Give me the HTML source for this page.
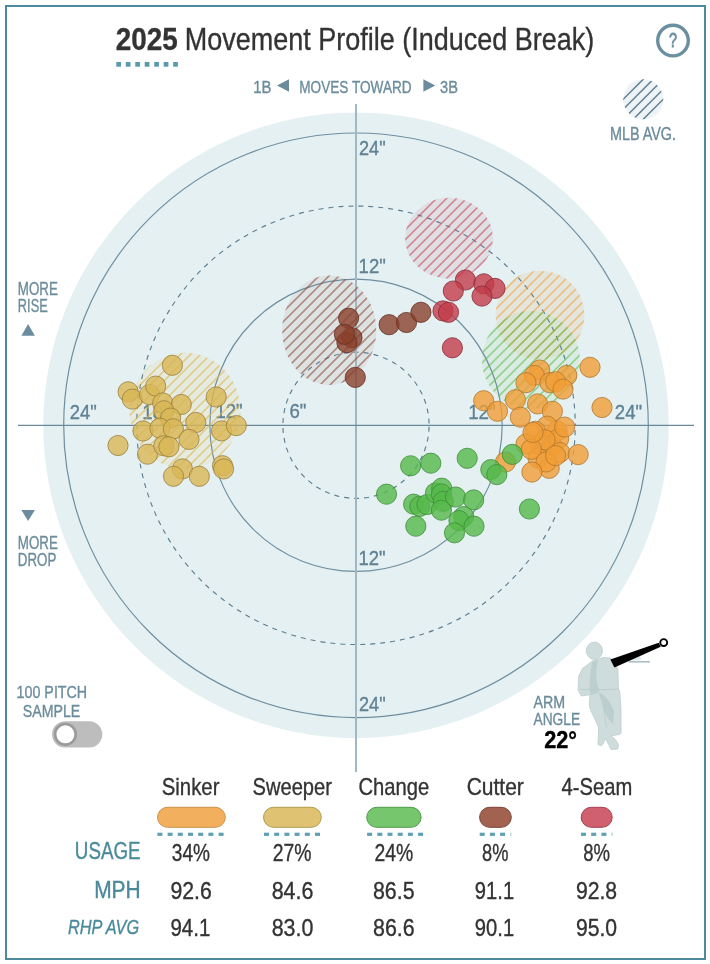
<!DOCTYPE html><html><head><meta charset="utf-8"><style>html,body{margin:0;padding:0;background:#fff;overflow:hidden}svg{display:block;will-change:transform}</style></head><body><svg width="710" height="964" viewBox="0 0 710 964" font-family='"Liberation Sans", sans-serif'>
<defs>
<pattern id="p_ff" patternUnits="userSpaceOnUse" width="7.07" height="7.07" patternTransform="rotate(-45)"><line x1="0" y1="3.535" x2="7.07" y2="3.535" stroke="#f0a23c" stroke-width="1.0"/></pattern>
<pattern id="p_sl" patternUnits="userSpaceOnUse" width="7.07" height="7.07" patternTransform="rotate(-45)"><line x1="0" y1="3.535" x2="7.07" y2="3.535" stroke="#dcb64a" stroke-width="1.0"/></pattern>
<pattern id="p_ch" patternUnits="userSpaceOnUse" width="7.07" height="7.07" patternTransform="rotate(-45)"><line x1="0" y1="3.535" x2="7.07" y2="3.535" stroke="#5cbf4c" stroke-width="1.0"/></pattern>
<pattern id="p_fc" patternUnits="userSpaceOnUse" width="7.07" height="7.07" patternTransform="rotate(-45)"><line x1="0" y1="3.535" x2="7.07" y2="3.535" stroke="#8e4a3a" stroke-width="1.0"/></pattern>
<pattern id="p_fs" patternUnits="userSpaceOnUse" width="7.07" height="7.07" patternTransform="rotate(-45)"><line x1="0" y1="3.535" x2="7.07" y2="3.535" stroke="#cc4458" stroke-width="1.0"/></pattern>
<pattern id="p_mlb" patternUnits="userSpaceOnUse" width="7.07" height="7.07" patternTransform="rotate(-45)"><line x1="0" y1="3.535" x2="7.07" y2="3.535" stroke="#5f8194" stroke-width="1.0"/></pattern>
</defs>
<rect width="710" height="964" fill="#ffffff"/>
<rect x="6" y="6" width="699" height="953" fill="none" stroke="#4f8a9c" stroke-width="2"/>
<circle cx="356.0" cy="425.3" r="312.7" fill="#e5f0f2"/>
<ellipse cx="449.0" cy="238.2" rx="44.0" ry="40.5" fill="#c9a0b0" fill-opacity="0.2"/>
<ellipse cx="329.2" cy="330.2" rx="47.0" ry="54.7" fill="#c0a8a8" fill-opacity="0.2"/>
<ellipse cx="540.0" cy="315.2" rx="44.5" ry="44.5" fill="#e0d0b0" fill-opacity="0.3"/>
<ellipse cx="531.0" cy="360.0" rx="49.0" ry="49.0" fill="#c0e0c0" fill-opacity="0.3"/>
<ellipse cx="185.0" cy="410.8" rx="55.5" ry="58.0" fill="#e8e0b8" fill-opacity="0.3"/>
<g fill="none" stroke="#6f8fa0">
<circle cx="356.0" cy="425.3" r="146.15" stroke-width="1.2"/>
<circle cx="356.0" cy="425.3" r="292.30" stroke-width="1.2"/>
<circle cx="356.0" cy="425.3" r="73.08" stroke-width="1.15" stroke-dasharray="5 5" stroke-dashoffset="-1.5" stroke="#5d7f91"/>
<circle cx="356.0" cy="425.3" r="219.23" stroke-width="1.15" stroke-dasharray="5 5" stroke-dashoffset="5" stroke="#5d7f91"/>
<line x1="356.0" y1="104" x2="356.0" y2="772" stroke-width="2" stroke="#a1b7c2"/>
<line x1="18" y1="425.4" x2="694" y2="425.4" stroke-width="1.3" stroke="#6a8a9c"/>
</g>
<g>
<text x="358.99" y="155.20" font-size="20.90" fill="#5f8194" textLength="26.58" lengthAdjust="spacingAndGlyphs" stroke="#5f8194" stroke-width="0.35">24&quot;</text>
<text x="358.59" y="272.90" font-size="20.90" fill="#5f8194" textLength="27.20" lengthAdjust="spacingAndGlyphs" stroke="#5f8194" stroke-width="0.35">12&quot;</text>
<text x="358.49" y="564.90" font-size="20.90" fill="#5f8194" textLength="27.09" lengthAdjust="spacingAndGlyphs" stroke="#5f8194" stroke-width="0.35">12&quot;</text>
<text x="358.99" y="710.80" font-size="20.90" fill="#5f8194" textLength="26.58" lengthAdjust="spacingAndGlyphs" stroke="#5f8194" stroke-width="0.35">24&quot;</text>
<text x="69.67" y="418.90" font-size="20.90" fill="#5f8194" textLength="27.01" lengthAdjust="spacingAndGlyphs" stroke="#5f8194" stroke-width="0.35">24&quot;</text>
<text x="142.37" y="418.50" font-size="20.90" fill="#5f8194" textLength="27.53" lengthAdjust="spacingAndGlyphs" stroke="#5f8194" stroke-width="0.35">18&quot;</text>
<text x="215.39" y="418.20" font-size="20.90" fill="#5f8194" textLength="27.20" lengthAdjust="spacingAndGlyphs" stroke="#5f8194" stroke-width="0.35">12&quot;</text>
<text x="289.46" y="418.30" font-size="20.90" fill="#5f8194" textLength="16.93" lengthAdjust="spacingAndGlyphs" stroke="#5f8194" stroke-width="0.35">6&quot;</text>
<text x="468.17" y="418.60" font-size="20.90" fill="#5f8194" textLength="27.53" lengthAdjust="spacingAndGlyphs" stroke="#5f8194" stroke-width="0.35">12&quot;</text>
<text x="614.87" y="419.00" font-size="20.90" fill="#5f8194" textLength="27.22" lengthAdjust="spacingAndGlyphs" stroke="#5f8194" stroke-width="0.35">24&quot;</text>
</g>
<ellipse cx="449.0" cy="238.2" rx="44.0" ry="40.5" fill="url(#p_fs)"/>
<ellipse cx="329.2" cy="330.2" rx="47.0" ry="54.7" fill="url(#p_fc)"/>
<ellipse cx="540.0" cy="315.2" rx="44.5" ry="44.5" fill="url(#p_ff)"/>
<ellipse cx="531.0" cy="360.0" rx="49.0" ry="49.0" fill="url(#p_ch)"/>
<ellipse cx="185.0" cy="410.8" rx="55.5" ry="58.0" fill="url(#p_sl)"/>
<g fill="#d8b654" fill-opacity="0.8" stroke="#9a8040" stroke-opacity="0.8" stroke-width="1">
<circle cx="172.4" cy="365.3" r="10.1"/>
<circle cx="128.1" cy="391.8" r="10.1"/>
<circle cx="132.3" cy="399.1" r="10.1"/>
<circle cx="149.5" cy="394.6" r="10.1"/>
<circle cx="155.7" cy="386.1" r="10.1"/>
<circle cx="162.7" cy="402.9" r="10.1"/>
<circle cx="181.3" cy="404.5" r="10.1"/>
<circle cx="216.2" cy="397.0" r="10.1"/>
<circle cx="163.8" cy="410.8" r="10.1"/>
<circle cx="170.6" cy="418.1" r="10.1"/>
<circle cx="195.8" cy="422.5" r="10.1"/>
<circle cx="143.0" cy="431.0" r="10.1"/>
<circle cx="159.9" cy="428.2" r="10.1"/>
<circle cx="173.4" cy="428.8" r="10.1"/>
<circle cx="189.0" cy="439.4" r="10.1"/>
<circle cx="221.5" cy="430.9" r="10.1"/>
<circle cx="236.3" cy="425.6" r="10.1"/>
<circle cx="118.0" cy="445.5" r="10.1"/>
<circle cx="147.5" cy="454.2" r="10.1"/>
<circle cx="163.8" cy="445.7" r="10.1"/>
<circle cx="168.9" cy="446.8" r="10.1"/>
<circle cx="182.4" cy="468.9" r="10.1"/>
<circle cx="173.5" cy="476.3" r="10.1"/>
<circle cx="199.3" cy="476.3" r="10.1"/>
<circle cx="222.5" cy="465.7" r="10.1"/>
<circle cx="223.6" cy="468.9" r="10.1"/>
</g>
<g fill="#f19e36" fill-opacity="0.8" stroke="#b0782e" stroke-opacity="0.8" stroke-width="1">
<circle cx="540.0" cy="445.0" r="10.1"/>
<circle cx="552.0" cy="446.0" r="10.1"/>
<circle cx="538.0" cy="458.0" r="10.1"/>
<circle cx="557.0" cy="431.0" r="10.1"/>
<circle cx="590.0" cy="367.3" r="10.1"/>
<circle cx="602.0" cy="407.5" r="10.1"/>
<circle cx="483.7" cy="400.7" r="10.1"/>
<circle cx="497.5" cy="411.3" r="10.1"/>
<circle cx="515.4" cy="399.7" r="10.1"/>
<circle cx="520.3" cy="417.2" r="10.1"/>
<circle cx="539.7" cy="370.0" r="10.1"/>
<circle cx="534.4" cy="375.4" r="10.1"/>
<circle cx="526.0" cy="382.7" r="10.1"/>
<circle cx="537.6" cy="403.9" r="10.1"/>
<circle cx="549.9" cy="382.7" r="10.1"/>
<circle cx="566.8" cy="375.4" r="10.1"/>
<circle cx="555.6" cy="381.7" r="10.1"/>
<circle cx="563.0" cy="389.1" r="10.1"/>
<circle cx="552.4" cy="411.3" r="10.1"/>
<circle cx="547.1" cy="426.1" r="10.1"/>
<circle cx="535.5" cy="431.3" r="10.1"/>
<circle cx="558.7" cy="438.7" r="10.1"/>
<circle cx="545.0" cy="439.8" r="10.1"/>
<circle cx="526.0" cy="444.0" r="10.1"/>
<circle cx="531.3" cy="449.3" r="10.1"/>
<circle cx="559.8" cy="452.5" r="10.1"/>
<circle cx="549.2" cy="468.3" r="10.1"/>
<circle cx="546.0" cy="462.0" r="10.1"/>
<circle cx="578.2" cy="454.6" r="10.1"/>
<circle cx="505.5" cy="462.0" r="10.1"/>
<circle cx="533.0" cy="432.4" r="10.1"/>
<circle cx="564.7" cy="427.1" r="10.1"/>
<circle cx="555.6" cy="455.6" r="10.1"/>
<circle cx="531.9" cy="472.1" r="10.1"/>
</g>
<g fill="#55b94a" fill-opacity="0.8" stroke="#3f8c3a" stroke-opacity="0.8" stroke-width="1">
<circle cx="410.6" cy="465.8" r="10.1"/>
<circle cx="430.8" cy="463.2" r="10.1"/>
<circle cx="467.2" cy="458.3" r="10.1"/>
<circle cx="386.5" cy="494.2" r="10.1"/>
<circle cx="413.6" cy="504.2" r="10.1"/>
<circle cx="419.8" cy="506.3" r="10.1"/>
<circle cx="427.0" cy="504.5" r="10.1"/>
<circle cx="435.5" cy="492.9" r="10.1"/>
<circle cx="441.7" cy="488.2" r="10.1"/>
<circle cx="441.4" cy="494.0" r="10.1"/>
<circle cx="443.3" cy="501.4" r="10.1"/>
<circle cx="441.4" cy="510.2" r="10.1"/>
<circle cx="455.5" cy="497.0" r="10.1"/>
<circle cx="473.7" cy="499.9" r="10.1"/>
<circle cx="415.8" cy="526.2" r="10.1"/>
<circle cx="463.7" cy="516.5" r="10.1"/>
<circle cx="458.9" cy="520.6" r="10.1"/>
<circle cx="474.0" cy="526.2" r="10.1"/>
<circle cx="454.5" cy="532.8" r="10.1"/>
<circle cx="490.8" cy="469.6" r="10.1"/>
<circle cx="496.8" cy="474.6" r="10.1"/>
<circle cx="512.3" cy="454.4" r="10.1"/>
<circle cx="529.4" cy="509.0" r="10.1"/>
</g>
<g fill="#89412c" fill-opacity="0.8" stroke="#643024" stroke-opacity="0.8" stroke-width="1">
<circle cx="348.6" cy="318.2" r="10.1"/>
<circle cx="352.0" cy="337.7" r="10.1"/>
<circle cx="346.9" cy="342.7" r="10.1"/>
<circle cx="344.4" cy="334.3" r="10.1"/>
<circle cx="355.3" cy="377.4" r="10.1"/>
<circle cx="389.1" cy="324.7" r="10.1"/>
<circle cx="406.5" cy="322.5" r="10.1"/>
<circle cx="420.9" cy="312.3" r="10.1"/>
</g>
<g fill="#c23c4a" fill-opacity="0.8" stroke="#8a2c3a" stroke-opacity="0.8" stroke-width="1">
<circle cx="465.4" cy="280.0" r="10.1"/>
<circle cx="453.3" cy="291.0" r="10.1"/>
<circle cx="483.9" cy="283.8" r="10.1"/>
<circle cx="495.0" cy="288.4" r="10.1"/>
<circle cx="482.0" cy="296.1" r="10.1"/>
<circle cx="443.0" cy="310.9" r="10.1"/>
<circle cx="448.5" cy="312.3" r="10.1"/>
<circle cx="452.4" cy="347.8" r="10.1"/>
</g>
<text x="115.83" y="50.20" font-size="32.20" fill="#333333" font-weight="bold" textLength="61.94" lengthAdjust="spacingAndGlyphs" stroke="#333333" stroke-width="0.35">2025</text>
<text x="184.69" y="49.90" font-size="31.70" fill="#333333" textLength="409.49" lengthAdjust="spacingAndGlyphs" stroke="#333333" stroke-width="0.35">Movement Profile (Induced Break)</text>
<rect x="116.30" y="62" width="4.7" height="4.7" fill="#5a9aad"/>
<rect x="125.78" y="62" width="4.7" height="4.7" fill="#5a9aad"/>
<rect x="135.26" y="62" width="4.7" height="4.7" fill="#5a9aad"/>
<rect x="144.74" y="62" width="4.7" height="4.7" fill="#5a9aad"/>
<rect x="154.22" y="62" width="4.7" height="4.7" fill="#5a9aad"/>
<rect x="163.70" y="62" width="4.7" height="4.7" fill="#5a9aad"/>
<rect x="173.18" y="62" width="4.7" height="4.7" fill="#5a9aad"/>
<circle cx="673" cy="40.6" r="15.3" fill="none" stroke="#6a8fa0" stroke-width="3.4"/>
<text x="668.91" y="46.60" font-size="19.50" fill="#6a8fa0" textLength="8.03" lengthAdjust="spacingAndGlyphs" stroke="#6a8fa0" stroke-width="0.8">?</text>
<text x="253.17" y="92.60" font-size="17.20" fill="#6b8c9c" textLength="18.22" lengthAdjust="spacingAndGlyphs" stroke="#6b8c9c" stroke-width="0.35">1B</text>
<path d="M277,85.5 L289,79.2 L289,91.8 Z" fill="#6b8c9c"/>
<text x="299.29" y="92.60" font-size="17.20" fill="#6b8c9c" textLength="112.35" lengthAdjust="spacingAndGlyphs" stroke="#6b8c9c" stroke-width="0.35">MOVES TOWARD</text>
<path d="M435.2,85.5 L423.4,79.2 L423.4,91.8 Z" fill="#6b8c9c"/>
<text x="440.04" y="92.60" font-size="17.20" fill="#6b8c9c" textLength="17.93" lengthAdjust="spacingAndGlyphs" stroke="#6b8c9c" stroke-width="0.35">3B</text>
<circle cx="643.2" cy="99.3" r="20" fill="#eef3f5"/>
<clipPath id="mlbclip"><circle cx="643.2" cy="99.3" r="20"/></clipPath>
<g clip-path="url(#mlbclip)" stroke="#5f8194" stroke-width="1.5">
<line x1="573.2" y1="129.3" x2="633.2" y2="69.3"/>
<line x1="583.2" y1="129.3" x2="643.2" y2="69.3"/>
<line x1="593.2" y1="129.3" x2="653.2" y2="69.3"/>
<line x1="603.2" y1="129.3" x2="663.2" y2="69.3"/>
<line x1="613.2" y1="129.3" x2="673.2" y2="69.3"/>
<line x1="623.2" y1="129.3" x2="683.2" y2="69.3"/>
<line x1="633.2" y1="129.3" x2="693.2" y2="69.3"/>
<line x1="643.2" y1="129.3" x2="703.2" y2="69.3"/>
<line x1="653.2" y1="129.3" x2="713.2" y2="69.3"/>
</g>
<text x="609.95" y="139.90" font-size="18.00" fill="#6b8c9c" textLength="66.13" lengthAdjust="spacingAndGlyphs" stroke="#6b8c9c" stroke-width="0.35">MLB AVG.</text>
<text x="17.80" y="294.90" font-size="17.90" fill="#6b8c9c" textLength="40.07" lengthAdjust="spacingAndGlyphs" stroke="#6b8c9c" stroke-width="0.35">MORE</text>
<text x="17.85" y="311.90" font-size="17.90" fill="#6b8c9c" textLength="29.90" lengthAdjust="spacingAndGlyphs" stroke="#6b8c9c" stroke-width="0.35">RISE</text>
<path d="M28.1,324 L34.9,335.7 L21.4,335.7 Z" fill="#6b8c9c"/>
<path d="M28.1,521.1 L34.9,510 L21.4,510 Z" fill="#6b8c9c"/>
<text x="17.80" y="548.90" font-size="17.90" fill="#6b8c9c" textLength="40.07" lengthAdjust="spacingAndGlyphs" stroke="#6b8c9c" stroke-width="0.35">MORE</text>
<text x="17.81" y="565.80" font-size="17.90" fill="#6b8c9c" textLength="38.50" lengthAdjust="spacingAndGlyphs" stroke="#6b8c9c" stroke-width="0.35">DROP</text>
<text x="16.61" y="697.80" font-size="17.20" fill="#6b8c9c" textLength="70.55" lengthAdjust="spacingAndGlyphs" stroke="#6b8c9c" stroke-width="0.35">100 PITCH</text>
<text x="22.76" y="716.80" font-size="17.20" fill="#6b8c9c" textLength="57.55" lengthAdjust="spacingAndGlyphs" stroke="#6b8c9c" stroke-width="0.35">SAMPLE</text>
<rect x="52" y="721.2" width="50.3" height="26.3" rx="13.15" fill="#bdbdbd"/>
<circle cx="65.4" cy="734.3" r="10.3" fill="#ffffff" stroke="#9a9a9a" stroke-width="2.6"/>
<text x="533.47" y="708.20" font-size="17.00" fill="#6b8c9c" textLength="31.70" lengthAdjust="spacingAndGlyphs" stroke="#6b8c9c" stroke-width="0.35">ARM</text>
<text x="533.47" y="724.70" font-size="17.00" fill="#6b8c9c" textLength="46.62" lengthAdjust="spacingAndGlyphs" stroke="#6b8c9c" stroke-width="0.35">ANGLE</text>
<text x="544.25" y="748.30" font-size="23.00" fill="#000000" font-weight="bold" textLength="32.78" lengthAdjust="spacingAndGlyphs" stroke="#000000" stroke-width="0.35">22°</text>
<path d="M603,657.4 L610.5,658 L617.9,668.6 L618.5,688.5 L619.8,692.3 L621,709.7 L621,733.3 L619.2,734.6 L611.1,735.8 L615.4,739.6 L618.5,744.5 L617.9,748.9 L611.1,749.5 L607.3,742 L604.9,738.3 L603.6,743.3 L601.1,745.8 L598,744.5 L598.6,727.1 L590.5,709.7 L589.3,704.7 L589.9,694.8 L581.2,696 L578.1,689.8 L578.7,676.1 L582.4,668.6 L592.4,661.1 L598.6,659.3 Z" fill="#cfdcdc" stroke="#b6c9c9" stroke-width="0.7"/>
<path d="M592,662 L598,660 C595,672 596,684 600,690 L596,694 L590,694.5 C589,684 590,672 592,662 Z" fill="#bdcfcf"/>
<path d="M598,692 C604,694 610,700 614,712 L613,724 C608,720 604,712 601,700 Z" fill="#bccece"/>
<ellipse cx="594.4" cy="650.8" rx="8.1" ry="8.7" fill="#cfdcdc" stroke="#b6c9c9" stroke-width="0.7"/>
<path d="M589.9,690 L618.5,689" stroke="#b6c9c9" stroke-width="0.8" fill="none"/>
<path d="M580,689 C584,690 588,690 590,688" stroke="#b6c9c9" stroke-width="0.8" fill="none"/>
<path d="M603.4,706 L606.5,727" stroke="#b6c9c9" stroke-width="0.7" fill="none"/>
<line x1="628.7" y1="661.8" x2="649.9" y2="661.8" stroke="#a8bcc6" stroke-width="1.5"/>
<path d="M612,660 L640,655 L641,660 L614,662 Z" fill="#dfe8e8"/>
<path d="M610.4,659.6 L658.7,642.8 L660.7,646.8 L614.4,667.5 Z" fill="#000000"/>
<circle cx="663.7" cy="642.6" r="3.45" fill="#ffffff" stroke="#000000" stroke-width="1.9"/>
<text x="161.78" y="794.90" font-size="23.60" fill="#333333" textLength="57.66" lengthAdjust="spacingAndGlyphs" stroke="#333333" stroke-width="0.35">Sinker</text>
<rect x="157.5" y="807.3" width="67.8" height="20" rx="10" fill="#f2b05e" stroke="#c9914a" stroke-width="1"/>
<rect x="157.4" y="832.7" width="5" height="3.2" fill="#5fa0b4"/>
<rect x="167.6" y="832.7" width="5" height="3.2" fill="#5fa0b4"/>
<rect x="177.8" y="832.7" width="5" height="3.2" fill="#5fa0b4"/>
<rect x="188.0" y="832.7" width="5" height="3.2" fill="#5fa0b4"/>
<rect x="198.2" y="832.7" width="5" height="3.2" fill="#5fa0b4"/>
<rect x="208.4" y="832.7" width="5" height="3.2" fill="#5fa0b4"/>
<rect x="218.6" y="832.7" width="5" height="3.2" fill="#5fa0b4"/>
<text x="252.59" y="794.90" font-size="23.60" fill="#333333" textLength="79.35" lengthAdjust="spacingAndGlyphs" stroke="#333333" stroke-width="0.35">Sweeper</text>
<rect x="263.5" y="807.3" width="57.8" height="20" rx="10" fill="#dfc272" stroke="#b09a4e" stroke-width="1"/>
<rect x="264.0" y="832.7" width="5" height="3.2" fill="#5fa0b4"/>
<rect x="274.2" y="832.7" width="5" height="3.2" fill="#5fa0b4"/>
<rect x="284.4" y="832.7" width="5" height="3.2" fill="#5fa0b4"/>
<rect x="294.6" y="832.7" width="5" height="3.2" fill="#5fa0b4"/>
<rect x="304.8" y="832.7" width="5" height="3.2" fill="#5fa0b4"/>
<rect x="315.0" y="832.7" width="5" height="3.2" fill="#5fa0b4"/>
<text x="358.47" y="794.90" font-size="23.60" fill="#333333" textLength="70.72" lengthAdjust="spacingAndGlyphs" stroke="#333333" stroke-width="0.35">Change</text>
<rect x="366.7" y="807.3" width="54.4" height="20" rx="10" fill="#75c66c" stroke="#4f9a48" stroke-width="1"/>
<rect x="367.1" y="832.7" width="5" height="3.2" fill="#5fa0b4"/>
<rect x="377.3" y="832.7" width="5" height="3.2" fill="#5fa0b4"/>
<rect x="387.5" y="832.7" width="5" height="3.2" fill="#5fa0b4"/>
<rect x="397.7" y="832.7" width="5" height="3.2" fill="#5fa0b4"/>
<rect x="407.9" y="832.7" width="5" height="3.2" fill="#5fa0b4"/>
<rect x="418.1" y="832.7" width="5" height="3.2" fill="#5fa0b4"/>
<text x="466.63" y="794.90" font-size="23.60" fill="#333333" textLength="57.22" lengthAdjust="spacingAndGlyphs" stroke="#333333" stroke-width="0.35">Cutter</text>
<rect x="479.6" y="807.3" width="31.7" height="20" rx="10" fill="#a2624f" stroke="#7a4232" stroke-width="1"/>
<rect x="479.7" y="832.7" width="5" height="3.2" fill="#5fa0b4"/>
<rect x="489.9" y="832.7" width="5" height="3.2" fill="#5fa0b4"/>
<rect x="500.1" y="832.7" width="5" height="3.2" fill="#5fa0b4"/>
<rect x="510.3" y="832.7" width="1" height="3.2" fill="#9cc4d0"/>
<text x="561.54" y="794.90" font-size="23.60" fill="#333333" textLength="70.69" lengthAdjust="spacingAndGlyphs" stroke="#333333" stroke-width="0.35">4-Seam</text>
<rect x="581.2" y="807.3" width="31.0" height="20" rx="10" fill="#d0606f" stroke="#a2404e" stroke-width="1"/>
<rect x="581.0" y="832.7" width="5" height="3.2" fill="#5fa0b4"/>
<rect x="591.2" y="832.7" width="5" height="3.2" fill="#5fa0b4"/>
<rect x="601.4" y="832.7" width="5" height="3.2" fill="#5fa0b4"/>
<rect x="611.6" y="832.7" width="1" height="3.2" fill="#9cc4d0"/>
<text x="74.85" y="859.40" font-size="23.30" fill="#4a8a9a" textLength="65.65" lengthAdjust="spacingAndGlyphs" stroke="#4a8a9a" stroke-width="0.35">USAGE</text>
<text x="94.18" y="897.70" font-size="23.30" fill="#4a8a9a" textLength="46.52" lengthAdjust="spacingAndGlyphs" stroke="#4a8a9a" stroke-width="0.35">MPH</text>
<text x="67.91" y="933.90" font-size="19.50" fill="#4a8a9a" font-style="italic" textLength="71.27" lengthAdjust="spacingAndGlyphs" stroke="#4a8a9a" stroke-width="0.35">RHP AVG</text>
<text x="171.87" y="861.00" font-size="23.60" fill="#333333" textLength="38.10" lengthAdjust="spacingAndGlyphs" stroke="#333333" stroke-width="0.35">34%</text>
<text x="272.73" y="861.00" font-size="23.60" fill="#333333" textLength="38.76" lengthAdjust="spacingAndGlyphs" stroke="#333333" stroke-width="0.35">27%</text>
<text x="374.43" y="861.00" font-size="23.60" fill="#333333" textLength="38.76" lengthAdjust="spacingAndGlyphs" stroke="#333333" stroke-width="0.35">24%</text>
<text x="482.01" y="861.00" font-size="23.60" fill="#333333" textLength="26.34" lengthAdjust="spacingAndGlyphs" stroke="#333333" stroke-width="0.35">8%</text>
<text x="583.20" y="861.00" font-size="23.60" fill="#333333" textLength="26.76" lengthAdjust="spacingAndGlyphs" stroke="#333333" stroke-width="0.35">8%</text>
<text x="170.40" y="898.90" font-size="23.60" fill="#333333" textLength="41.33" lengthAdjust="spacingAndGlyphs" stroke="#333333" stroke-width="0.35">92.6</text>
<text x="271.67" y="898.90" font-size="23.60" fill="#333333" textLength="41.78" lengthAdjust="spacingAndGlyphs" stroke="#333333" stroke-width="0.35">84.6</text>
<text x="372.97" y="898.90" font-size="23.60" fill="#333333" textLength="41.63" lengthAdjust="spacingAndGlyphs" stroke="#333333" stroke-width="0.35">86.5</text>
<text x="474.86" y="898.90" font-size="23.60" fill="#333333" textLength="39.23" lengthAdjust="spacingAndGlyphs" stroke="#333333" stroke-width="0.35">91.1</text>
<text x="575.91" y="898.90" font-size="23.60" fill="#333333" textLength="41.21" lengthAdjust="spacingAndGlyphs" stroke="#333333" stroke-width="0.35">92.8</text>
<text x="170.44" y="936.00" font-size="23.60" fill="#333333" textLength="39.86" lengthAdjust="spacingAndGlyphs" stroke="#333333" stroke-width="0.35">94.1</text>
<text x="271.67" y="936.00" font-size="23.60" fill="#333333" textLength="41.67" lengthAdjust="spacingAndGlyphs" stroke="#333333" stroke-width="0.35">83.0</text>
<text x="372.97" y="936.00" font-size="23.60" fill="#333333" textLength="41.67" lengthAdjust="spacingAndGlyphs" stroke="#333333" stroke-width="0.35">86.6</text>
<text x="474.86" y="936.00" font-size="23.60" fill="#333333" textLength="39.23" lengthAdjust="spacingAndGlyphs" stroke="#333333" stroke-width="0.35">90.1</text>
<text x="575.91" y="936.00" font-size="23.60" fill="#333333" textLength="41.12" lengthAdjust="spacingAndGlyphs" stroke="#333333" stroke-width="0.35">95.0</text>
</svg></body></html>
